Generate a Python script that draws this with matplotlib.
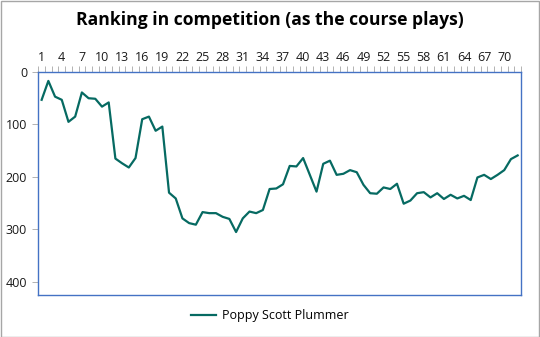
import matplotlib
matplotlib.use("Agg")
import matplotlib.pyplot as plt
from matplotlib.patches import Rectangle

plt.rcParams['font.family'] = ['Open Sans', 'DejaVu Sans']

title = "Ranking in competition (as the course plays)"
series_name = "Poppy Scott Plummer"
holes = list(range(1, 73))
ranking = [53, 17, 47, 53, 95, 85, 39, 50, 51, 66, 58, 165,
           174, 182, 164, 90, 85, 112, 104, 230, 241, 279, 288, 291,
           267, 269, 269, 276, 280, 305, 279, 266, 269, 263, 223, 222,
           214, 179, 180, 164, 196, 228, 175, 169, 196, 194, 187, 191,
           215, 231, 232, 220, 223, 213, 251, 245, 231, 229, 239, 231,
           242, 234, 241, 236, 244, 201, 196, 204, 196, 187, 166, 159]
x_labels = list(range(1, 71, 3))
y_ticks = [0, 100, 200, 300, 400]

fig = plt.figure(figsize=(5.4, 3.37), dpi=100)
fig.patches.append(Rectangle((0.5 / 540, 0.5 / 337), 1 - 1.5 / 540, 1 - 1.5 / 337,
                             transform=fig.transFigure, fill=False,
                             edgecolor='#A6A6A6', linewidth=1.0))

ax = fig.add_axes([38.3 / 540, 1 - 295 / 337, (521 - 38.3) / 540, (295 - 72) / 337])
line, = ax.plot(holes, ranking, color='#066A62', linewidth=1.6, label=series_name)

ax.set_xlim(0.5, len(holes) + 0.5)
ax.set_ylim(425, 0)
ax.xaxis.tick_top()
ax.set_xticks(x_labels)
ax.set_xticklabels([str(v) for v in x_labels])
ax.set_xticks([i + 0.5 for i in range(0, len(holes) + 1)], minor=True)
ax.tick_params(axis='x', which='major', length=0, pad=6, labelsize=9, labelcolor='#1a1a1a')
ax.tick_params(axis='x', which='minor', length=4, width=0.6, color='#A6A6A6', top=True, bottom=False)
ax.set_yticks(y_ticks)
ax.tick_params(axis='y', which='major', length=4, width=0.6, color='#A6A6A6', pad=4,
               labelsize=9, labelcolor='#1a1a1a')
for s in ax.spines.values():
    s.set_color('#4472C4')
    s.set_linewidth(1.0)

fig.text(0.5, 1 - 20 / 337, title, ha='center', va='center',
         fontsize=12.6, fontweight='bold', color='#000000')

fig.legend(handles=[line], loc='center', bbox_to_anchor=(0.5, 1 - 316 / 337),
           frameon=False, fontsize=9, handlelength=2.0, handletextpad=0.5)

fig.savefig('out.png', dpi=100)
